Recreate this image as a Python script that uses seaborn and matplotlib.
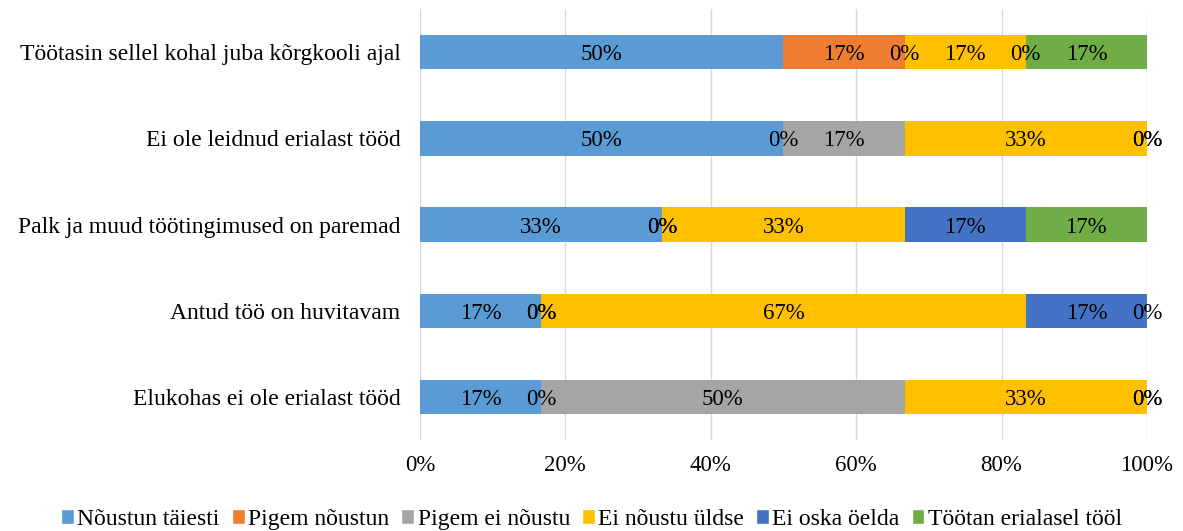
import matplotlib
matplotlib.use('Agg')
import matplotlib.pyplot as plt
import seaborn as sns
import pandas as pd
import numpy as np
from matplotlib.patches import Patch

# andmed
categories = ['Töötasin sellel kohal juba kõrgkooli ajal',
              'Ei ole leidnud erialast tööd',
              'Palk ja muud töötingimused on paremad',
              'Antud töö on huvitavam',
              'Elukohas ei ole erialast tööd']
series = ['Nõustun täiesti', 'Pigem nõustun', 'Pigem ei nõustu',
          'Ei nõustu üldse', 'Ei oska öelda', 'Töötan erialasel tööl']
noustun_taiesti = [50.0, 50.0, 33.33, 16.67, 16.67]
pigem_noustun = [16.67, 0.0, 0.0, 0.0, 0.0]
pigem_ei_noustu = [0.0, 16.67, 0.0, 0.0, 50.0]
ei_noustu_uldse = [16.67, 33.33, 33.33, 66.67, 33.33]
ei_oska_oelda = [0.0, 0.0, 16.67, 16.67, 0.0]
tootan_erialasel = [16.67, 0.0, 16.67, 0.0, 0.0]
colors = ['#5B9BD5', '#ED7D31', '#A5A5A5', '#FFC000', '#4472C4', '#70AD47']

df = pd.DataFrame({'kategooria': categories,
                   series[0]: noustun_taiesti,
                   series[1]: pigem_noustun,
                   series[2]: pigem_ei_noustu,
                   series[3]: ei_noustu_uldse,
                   series[4]: ei_oska_oelda,
                   series[5]: tootan_erialasel})

cum = df[series].cumsum(axis=1)

sns.set_style('white')
plt.rcParams['font.family'] = ['Liberation Serif', 'DejaVu Serif']
plt.rcParams['text.color'] = 'black'
plt.rcParams['xtick.color'] = 'black'
plt.rcParams['ytick.color'] = 'black'

fig = plt.figure(figsize=(11.83, 5.31), dpi=100)
ax = fig.add_axes([0.355, 0.171, 0.6145, 0.812])

# virnastatud tulbad: joonista kumulatiivsed summad tagant ettepoole
for i in range(len(series) - 1, -1, -1):
    sns.barplot(x=cum[series[i]], y=df['kategooria'], color=colors[i],
                orient='h', width=0.4, ax=ax, saturation=1, linewidth=0)

# sildid
for i, s in enumerate(series):
    left = cum[s] - df[s]
    for j in range(len(categories)):
        ax.text(left[j] + df[s][j] / 2, j + 0.03, f'{df[s][j]:.0f}%',
                ha='center', va='center', fontsize=16.5, color='black')

ax.set_xlim(0, 100)
ax.set_xticks(np.arange(0, 101, 20))
ax.set_xticklabels([f'{v}%' for v in range(0, 101, 20)])
ax.xaxis.grid(True, color='#D9D9D9', linewidth=1)
ax.set_axisbelow(True)
ax.set_xlabel('')
ax.set_ylabel('')
ax.tick_params(axis='x', length=0, pad=11, labelsize=16.5)
ax.tick_params(axis='y', length=0, pad=14, labelsize=17)
for sp in ax.spines.values():
    sp.set_visible(False)

handles = [Patch(facecolor=c, label=s) for c, s in zip(colors, series)]
fig.legend(handles=handles, loc='center', bbox_to_anchor=(0.5, 0.022), ncol=6,
           frameon=False, fontsize=17, handlelength=0.55, handleheight=0.55,
           handletextpad=0.15, columnspacing=0.5)

fig.savefig('out.png', dpi=100)
